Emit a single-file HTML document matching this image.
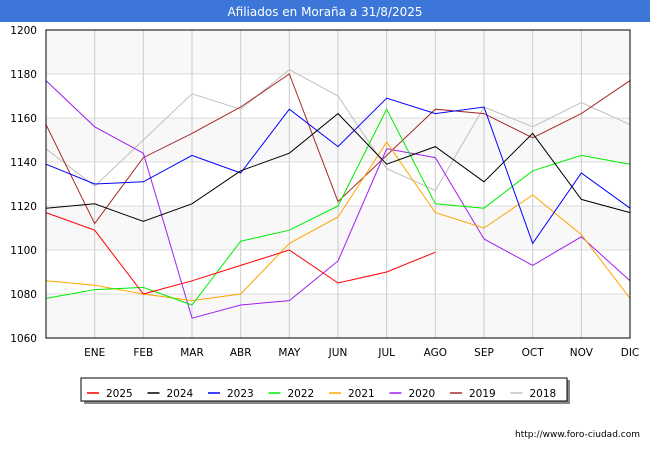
<!DOCTYPE html>
<html><head><meta charset="utf-8"><style>
body{margin:0;width:650px;height:450px;background:#fff;font-family:"DejaVu Sans","Liberation Sans",sans-serif;overflow:hidden}
svg text{font-family:"DejaVu Sans","Liberation Sans",sans-serif}
</style></head><body>
<svg width="650" height="450">
<rect x="0" y="0" width="650" height="22" fill="#3b76d8"/>
<text x="325" y="16" text-anchor="middle" font-size="12" fill="#fff">Afiliados en Moraña a 31/8/2025</text>
<g id="plot"></g>
<text x="640" y="437" text-anchor="end" font-size="9" fill="#000">http://www.foro-ciudad.com</text>
</svg>
<script>
const months=["","ENE","FEB","MAR","ABR","MAY","JUN","JUL","AGO","SEP","OCT","NOV","DIC"];
const yTicks=[1060,1080,1100,1120,1140,1160,1180,1200];
const seriesNames=["2025","2024","2023","2022","2021","2020","2019","2018"];
const seriesColors=["#ff0000","#000000","#0000ff","#00ee00","#ffa500","#a020f0","#a52a2a","#c0c0c0"];
const s2025=[1117,1109,1080,1086,1093,1100,1085,1090,1099];
const s2024=[1119,1121,1113,1121,1136,1144,1162,1139,1147,1131,1153,1123,1117];
const s2023=[1139,1130,1131,1143,1135,1164,1147,1169,1162,1165,1103,1135,1119];
const s2022=[1078,1082,1083,1075,1104,1109,1120,1164,1121,1119,1136,1143,1139];
const s2021=[1086,1084,1080,1077,1080,1103,1115,1149,1117,1110,1125,1107,1078];
const s2020=[1177,1156,1144,1069,1075,1077,1095,1146,1142,1105,1093,1106,1086];
const s2019=[1157,1112,1142,1153,1165,1180,1122,1143,1164,1162,1151,1162,1177];
const s2018=[1146,1129,1150,1171,1164,1182,1170,1137,1127,1165,1156,1167,1157];
const allSeries=[s2025,s2024,s2023,s2022,s2021,s2020,s2019,s2018];
const NS="http://www.w3.org/2000/svg";
const L=46,R=630,T=30,B=338,ymin=1060,ymax=1200;
const x=i=>L+(R-L)*i/12;
const y=v=>B-(v-ymin)/(ymax-ymin)*(B-T);
const g=document.getElementById('plot');
function el(t,a,p){const e=document.createElementNS(NS,t);for(const k in a)e.setAttribute(k,a[k]);(p||g).appendChild(e);return e;}
const bg=el('rect',{x:L,y:T,width:R-L,height:B-T,fill:'#fff'});


for(let i=0;i<yTicks.length-1;i++){if(i%2===0){const b=el('rect',{x:L,y:y(yTicks[i+1]),width:R-L,height:y(yTicks[i])-y(yTicks[i+1]),fill:'#f8f8f8'});

}}
yTicks.forEach(v=>{const l=el('line',{x1:L,x2:R,y1:y(v),y2:y(v),stroke:'#ddd'});


const t=el('text',{x:L-9,y:y(v)+4,'text-anchor':'end','font-size':10.5});t.textContent=v;

});
months.forEach((m,i)=>{if(i===0)return;const l=el('line',{x1:x(i),x2:x(i),y1:T,y2:B,stroke:'#ccc'});


const t=el('text',{x:x(i),y:B+18,'text-anchor':'middle','font-size':10.5});t.textContent=m;

});
for(let k=allSeries.length-1;k>=0;k--){const d=allSeries[k].map((v,i)=>x(i)+','+y(v)).join(' ');
const p=el('polyline',{points:d,fill:'none',stroke:seriesColors[k],'stroke-width':1});

}
const fr=el('rect',{x:L,y:T,width:R-L,height:B-T,fill:'none',stroke:'#000'});


const lg=el('g',{});


el('rect',{x:84,y:380,width:486,height:24,fill:'#888'},lg);
el('rect',{x:81,y:378,width:486,height:23,fill:'#fff',stroke:'#000'},lg);
seriesNames.forEach((n,i)=>{const ex=87+i*60.5;const e=el('g',{},lg);


el('line',{x1:ex,x2:ex+12,y1:393,y2:393,stroke:seriesColors[i],'stroke-width':1.5},e);
const t=el('text',{x:ex+19,y:397,'font-size':10.5},e);t.textContent=n;});
</script>
</body></html>
